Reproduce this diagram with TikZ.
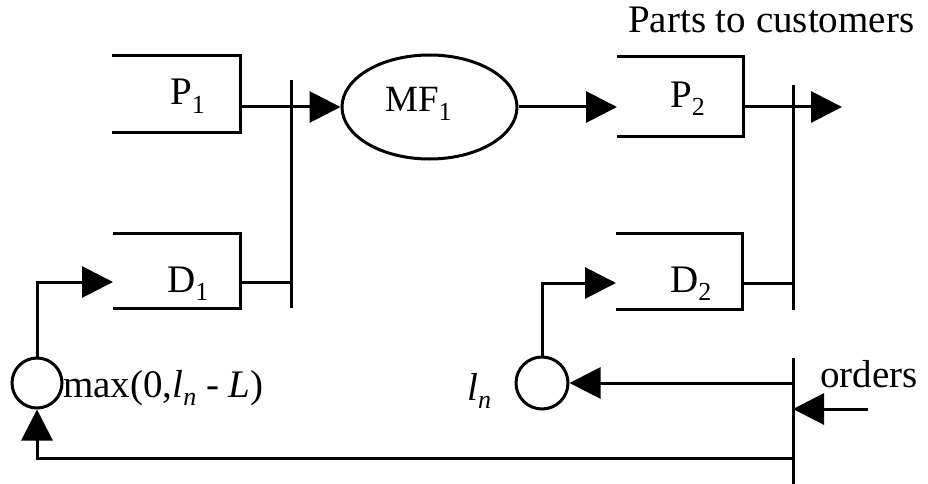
\documentclass[tikz,border=0pt]{standalone}
\usepackage{fontspec}
\setmainfont{Liberation Serif}
\usetikzlibrary{arrows.meta,shapes.geometric}
\newcommand{\lowsub}[1]{\raisebox{-0.22em}{\fontsize{26}{26}\selectfont #1}}
\tikzset{
  wire/.style={line width=3pt},
  arr/.style={wire,-{Triangle[length=31pt,width=31pt]}},
  lbl/.style={inner sep=0pt,font=\fontsize{39}{44}\selectfont},
}
\begin{document}
\begin{tikzpicture}[x=1pt,y=-1pt]
\useasboundingbox (0,0) rectangle (928,484);

% open-sided buffer boxes
\draw[wire] (112,56) -- (240,56) -- (240,132) -- (112,132);
\draw[wire] (617,57) -- (743,57) -- (743,136) -- (617,136);
\draw[wire] (113,233) -- (240,233) -- (240,308) -- (113,308);
\draw[wire] (616,233) -- (742,233) -- (742,309) -- (616,309);

% ports of the boxes
\coordinate (p1o) at (240,107);
\coordinate (d1o) at (240,282);
\coordinate (d1i) at (113,282);
\coordinate (p2i) at (617,107);
\coordinate (p2o) at (743,107);
\coordinate (d2o) at (742,283);
\coordinate (d2i) at (616,283);
\coordinate (out) at (842,107);
\coordinate (ordin) at (868,409);
\coordinate (fb) at (793,458);

% junction bars
\coordinate (b1t) at (291,80);  \coordinate (b1b) at (291,308);
\coordinate (b2t) at (793,85);  \coordinate (b2b) at (793,310);
\coordinate (b3t) at (793,358); \coordinate (b3b) at (793,484);
\draw[wire] (b1t) -- (b1b);
\draw[wire] (b2t) -- (b2b);
\draw[wire] (b3t) -- (b3b);

% process and summing nodes
\node[wire,draw,ellipse,minimum width=175pt,minimum height=104pt,inner sep=0pt] (mf) at (429.5,107) {};
\node[wire,draw,circle,minimum size=50pt,inner sep=0pt] (c1) at (37,383) {};
\node[wire,draw,circle,minimum size=52pt,inner sep=0pt] (c2) at (542,383) {};

% labels
\node[lbl,anchor=base west] (tp1) at (170,105) {P\lowsub{1}};
\node[lbl,anchor=base west] (tp2) at (670,107) {P\lowsub{2}};
\node[lbl,anchor=base west] (td1) at (167,292) {D\lowsub{1}};
\node[lbl,anchor=base west] (td2) at (670,292) {D\lowsub{2}};
\node[lbl,anchor=base west,font=\fontsize{37}{42}\selectfont] (tmf) at (385,112) {MF\lowsub{1}};
\node[lbl,anchor=base west] (tparts) at (628,33) {Parts to customers};
\node[lbl,anchor=base west] (tord) at (820,387) {orders};
\node[lbl,anchor=base west] (tmax) at (63,397) {max(0,\textit{l}\lowsub{\textit{n}} - \textit{L})};
\node[lbl,anchor=base west] (tln) at (467,400) {\textit{l}\lowsub{\textit{n}}};

% connectors
\draw[arr] (p1o) -- (mf.west);
\draw[wire] (d1o) -- (b1b |- d1o);
\draw[arr] (mf.east) -- (p2i);
\draw[arr] (p2o) -- (out);
\draw[wire] (d2o) -- (b2t |- d2o);
\draw[arr] (c1.north) |- (d1i);
\draw[arr] (c2.north) |- (d2i);
\draw[arr] (b3t |- c2) -- (c2.east);
\draw[arr] (ordin) -- (b3t |- ordin);
\draw[arr] (fb) -| (c1.south);
\end{tikzpicture}
\end{document}
